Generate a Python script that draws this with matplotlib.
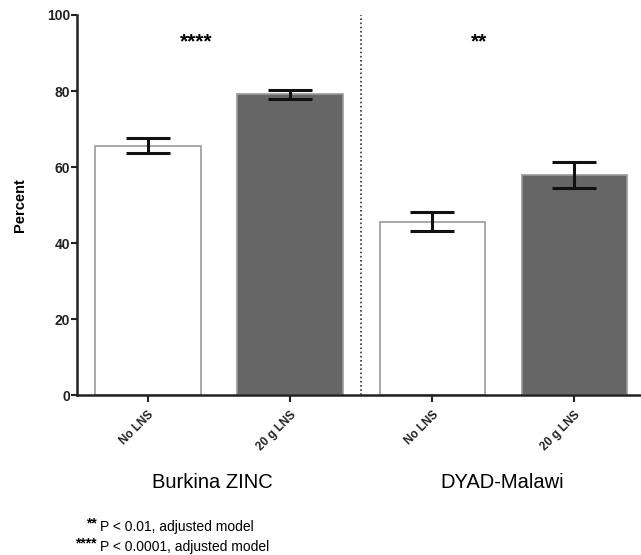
import matplotlib
matplotlib.use("Agg")
import matplotlib.pyplot as plt
import numpy as np

plt.rcParams['font.family'] = ['Liberation Sans', 'DejaVu Sans']

groups = ["Burkina ZINC", "DYAD-Malawi"]
bar_labels = ["No LNS", "20 g LNS", "No LNS", "20 g LNS"]
percent = [65.6, 79.1, 45.6, 58.0]
err = [2.0, 1.1, 2.5, 3.4]
fills = ["white", "#666666", "white", "#666666"]
stars = ["****", "**"]
notes = ["P < 0.01, adjusted model", "P < 0.0001, adjusted model"]
note_stars = ["**", "****"]

fig = plt.figure(figsize=(6.41, 5.55), dpi=100)
ax = fig.add_axes([0.120, 0.288, 0.88, 0.685])

x = np.arange(len(percent))
ax.bar(x, percent, width=0.74, color=fills, edgecolor="#9a9a9a", linewidth=1.2, zorder=2)
ax.errorbar(x, percent, yerr=err, fmt="none", ecolor="#111111", elinewidth=2.2,
            capsize=16, capthick=2.2, zorder=3)

ax.axvline(1.5, color="#333333", linestyle=(0, (1, 1.5)), linewidth=1.2, zorder=1)

ax.text(0.34, 93.0, stars[0], ha="center", va="center", fontsize=15, fontweight="bold")
ax.text(2.33, 93.0, stars[1], ha="center", va="center", fontsize=15, fontweight="bold")

ax.set_xlim(-0.5, 3.47)
ax.set_ylim(0, 100)
ax.set_yticks(np.arange(0, 101, 20))
ax.set_xticks(x)
ax.set_xticklabels(bar_labels, rotation=45, ha="right", rotation_mode="anchor",
                   fontsize=8.5, fontweight="bold")
for lab in ax.get_yticklabels():
    lab.set_fontweight("bold")
    lab.set_fontsize(10)
ax.set_ylabel("Percent", fontsize=10.5, fontweight="bold", labelpad=14)

for s in ["top", "right"]:
    ax.spines[s].set_visible(False)
for s in ["left", "bottom"]:
    ax.spines[s].set_linewidth(1.8)
    ax.spines[s].set_color("#222222")
ax.tick_params(axis="y", length=4, width=1.5, pad=1, colors="#222222")
ax.tick_params(axis="x", length=5, width=1.5, pad=5, colors="#222222")

fig.text(212 / 641, 1 - 482 / 555, groups[0], ha="center", va="center", fontsize=14.5)
fig.text(502 / 641, 1 - 482 / 555, groups[1], ha="center", va="center", fontsize=14.5)

for i, (st, nt) in enumerate(zip(note_stars, notes)):
    yy = 1 - (527 + 20 * i) / 555
    fig.text(97 / 641, yy + 0.006, st, ha="right", va="center", fontsize=10, fontweight="bold")
    fig.text(100 / 641, yy, nt, ha="left", va="center", fontsize=10)

fig.savefig("out.png", dpi=100)
